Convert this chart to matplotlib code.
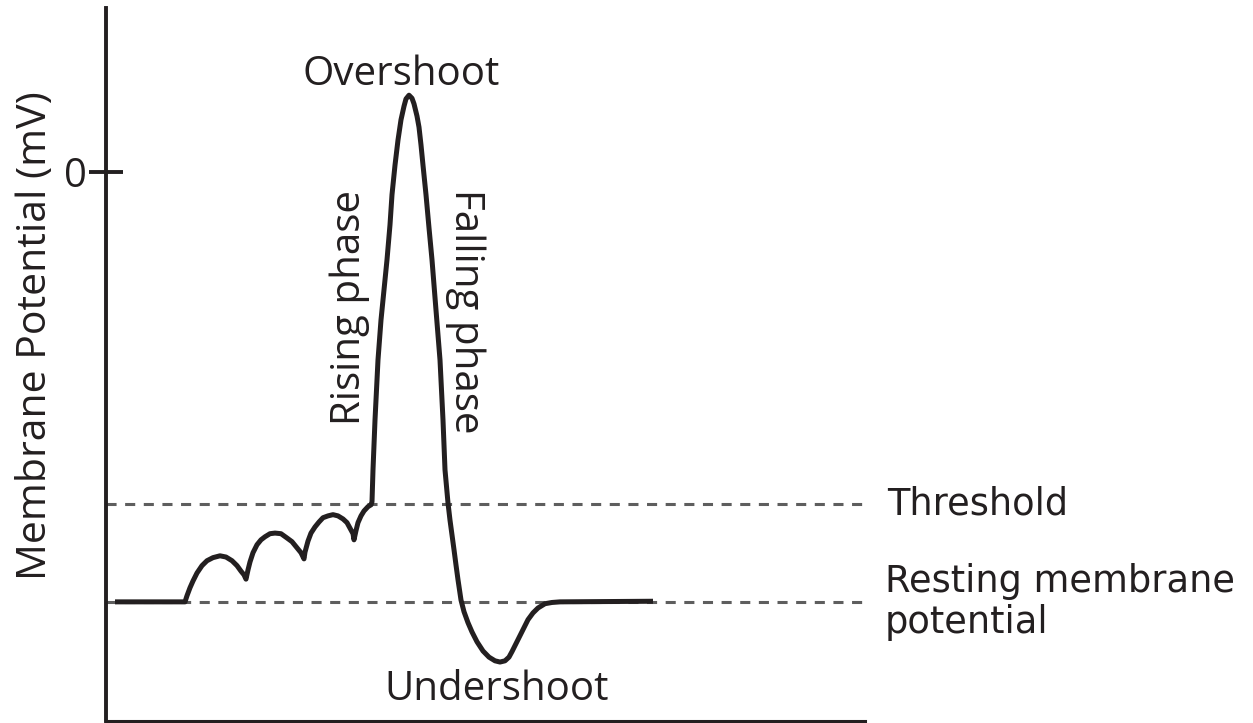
import matplotlib.pyplot as plt

# action potential trace (time in ms, membrane potential in mV)
# resting stretch and the three sub-threshold bumps
time_ms = [0.18, 1.58, 1.62, 1.68, 1.74, 1.82, 1.92, 2.02, 2.14, 2.28, 2.40,
           2.52, 2.62, 2.70, 2.76, 2.80,
           2.84, 2.88, 2.94, 3.02, 3.10, 3.18, 3.28, 3.38, 3.50,
           3.62, 3.72, 3.82, 3.90, 3.96,
           3.98, 4.04, 4.10, 4.18, 4.26, 4.34, 4.44, 4.54, 4.64,
           4.74, 4.82, 4.88, 4.94, 4.96,
           5.00, 5.04, 5.10, 5.16, 5.24, 5.30, 5.32,
           # rising phase, peak, falling phase
           5.34, 5.38, 5.44, 5.50, 5.56, 5.62, 5.68, 5.72, 5.78, 5.84,
           5.90, 5.96, 6.00, 6.06, 6.12, 6.16, 6.22, 6.26, 6.30, 6.34,
           6.40, 6.46, 6.52, 6.60, 6.68, 6.74, 6.78, 6.84, 6.88, 6.92,
           6.96, 7.00, 7.04, 7.10,
           # undershoot and recovery
           7.16, 7.24, 7.32, 7.42, 7.54, 7.66, 7.78, 7.88, 7.98, 8.06,
           8.12, 8.20, 8.28, 8.36, 8.44, 8.54, 8.64, 8.78, 8.92, 9.08, 10.94]
voltage_mv = [-70.0, -70.0, -69.0, -67.7, -66.6, -65.3, -64.1, -63.3, -62.8, -62.5, -62.7,
              -63.3, -64.1, -65.0, -65.6, -66.3,
              -64.8, -63.5, -62.0, -60.7, -59.9, -59.4, -58.9, -58.8, -58.9,
              -59.6, -60.2, -61.2, -62.0, -63.0,
              -61.9, -60.1, -58.8, -57.8, -57.0, -56.3, -56.0, -55.8, -56.0,
              -56.5, -57.1, -58.0, -58.9, -59.9,
              -58.4, -57.1, -56.0, -55.2, -54.5, -54.2, -53.7,
              -48.5, -40.4, -30.6, -24.1, -19.2, -14.3, -8.6, -3.7, 1.1, 5.2,
              8.5, 10.7, 11.9, 12.5, 12.0, 11.1, 9.1, 7.3, 4.4, 1.1,
              -3.7, -9.1, -14.3, -22.5, -30.6, -40.4, -48.5, -53.9, -56.7, -59.1,
              -61.5, -64.0, -66.4, -69.7,
              -71.6, -73.4, -74.9, -76.5, -78.0, -79.0, -79.6, -79.8, -79.6, -79.0,
              -78.1, -76.8, -75.5, -74.2, -72.9, -71.8, -71.0, -70.3, -70.1, -70.0, -69.9]

threshold_mv = -54
resting_mv = -70

ink = "#231f20"
grey = "#5e5e5e"
font = "Open Sans"

fig = plt.figure(figsize=(12.53, 7.23), dpi=100)
ax = fig.add_axes([106 / 1253, 2 / 723, (865 - 106) / 1253, (721 - 8) / 723])

ax.axhline(threshold_mv, color=grey, lw=2.2, dashes=(3.3, 2.8), zorder=1)
ax.axhline(resting_mv, color=grey, lw=2.2, dashes=(3.3, 2.8), zorder=1)
ax.plot(time_ms, voltage_mv, color=ink, lw=3.6, solid_joinstyle="round",
        solid_capstyle="butt", zorder=2)

ax.set_xlim(0, 15.18)
ax.set_ylim(-89.4, 26.7)

for side in ["top", "right"]:
    ax.spines[side].set_visible(False)
ax.spines["left"].set_linewidth(2.8)
ax.spines["bottom"].set_linewidth(2.2)
ax.spines["left"].set_color(ink)
ax.spines["bottom"].set_color(ink)

ax.set_xticks([])
ax.set_yticks([0])
ax.set_yticklabels(["0"], fontsize=29, family=font, color=ink)
ax.tick_params(axis="y", direction="inout", length=25, width=2.8, pad=1, colors=ink)

ax.set_ylabel("Membrane Potential (mV)", fontsize=29.5, family=font, color=ink)
ax.yaxis.set_label_coords(-0.066, 0.541)

ax.text(5.90, 14.2, "Overshoot", fontsize=29, family=font, color=ink,
        ha="center", va="baseline")
ax.text(4.88, -22.0, "Rising phase", fontsize=29, family=font, color=ink,
        ha="center", va="center", rotation=90)
ax.text(7.18, -22.6, "Falling phase", fontsize=29, family=font, color=ink,
        ha="center", va="center", rotation=270)
ax.text(7.82, -86.0, "Undershoot", fontsize=29, family=font, color=ink,
        ha="center", va="baseline")

ax.text(15.62, threshold_mv, "Threshold", fontsize=26.5, family="DejaVu Sans", color=ink,
        ha="left", va="center", clip_on=False)
ax.text(15.58, resting_mv, "Resting membrane\npotential", fontsize=26.5, family="DejaVu Sans",
        color=ink, ha="left", va="center", linespacing=1.15, clip_on=False)

fig.savefig("out.png", dpi=100)
